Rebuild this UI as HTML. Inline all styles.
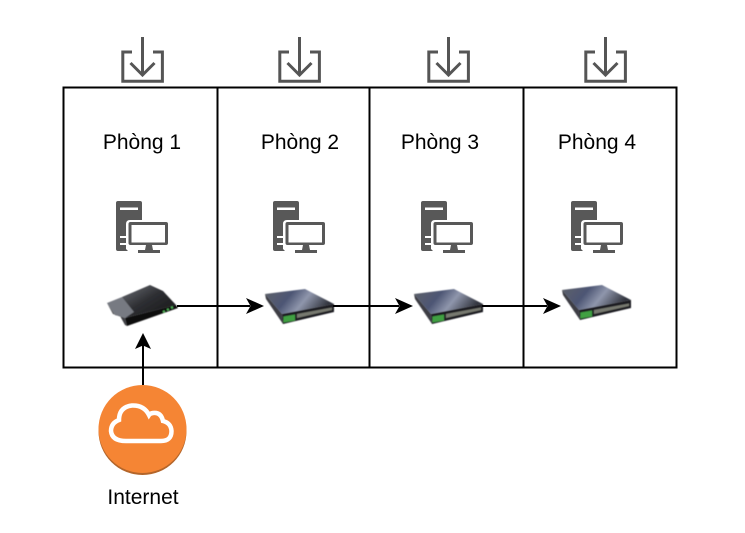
<!DOCTYPE html>
<html>
<head>
<meta charset="utf-8">
<style>
html,body{margin:0;padding:0;background:#fff}
svg{display:block}
text{font-family:"Liberation Sans",sans-serif;font-size:21px;fill:#000;text-anchor:middle}
</style>
</head>
<body>
<svg width="745" height="533" viewBox="0 0 745 533" xmlns="http://www.w3.org/2000/svg">
<defs>
<filter id="b" x="-10%" y="-10%" width="120%" height="120%"><feGaussianBlur stdDeviation="0.5"/></filter>
<filter id="b2" x="-10%" y="-10%" width="120%" height="120%"><feGaussianBlur stdDeviation="0.3"/></filter>
<g id="dl" fill="none" stroke="#555" stroke-width="3" filter="url(#b2)">
  <path d="M132 52H122.800V81.200H162.400V52H153"/>
  <path d="M142.500 37V74M130.500 63L142.500 75L154.500 63"/>
</g>
<g id="pc" filter="url(#b2)">
  <path d="M118 201H140Q142 201 142 203V220H130Q126 220 126 224V243H120V245H126V249L128 251H118Q116 251 116 249V203Q116 201 118 201Z" fill="#585858"/>
  <rect x="120" y="207.500" width="18" height="2.500" fill="#fff"/>
  <rect x="120" y="236" width="6" height="2" fill="#fff"/>
  <path d="M130.500 222H166Q168 222 168 224V243Q168 245 166 245H130.500Q128.500 245 128.500 243V224Q128.500 222 130.500 222Z" fill="#585858"/>
  <rect x="131.500" y="225" width="33.500" height="17.500" fill="#fff"/>
  <path d="M146 245H152L153 250H160V253H138V250H145Z" fill="#585858"/>
</g>
<linearGradient id="sw" x1="0" y1="0" x2="1" y2="0.3">
  <stop offset="0" stop-color="#5d6068"/><stop offset=".4" stop-color="#4d5674"/><stop offset=".65" stop-color="#8f96ac"/><stop offset="1" stop-color="#33363f"/>
</linearGradient>
<g id="sw1" filter="url(#b)">
  <path d="M265 294L305 289L334 304L282 314Z" fill="url(#sw)"/>
  <path d="M265 294L282 314L283 324L266 299Z" fill="#3c3e45"/>
  <path d="M282 314L334 304V312L283 324Z" fill="#1b1c20"/>
  <path d="M283.500 316.500L295 314.500V320.500L283.500 322.500Z" fill="#3fa043"/>
  <path d="M297 314L332 307.500V310L297 318Z" fill="#77796f"/>
</g>
<linearGradient id="rt" x1="0" y1="0" x2="1" y2="1">
  <stop offset="0" stop-color="#6d7077"/><stop offset=".45" stop-color="#2e2f33"/><stop offset="1" stop-color="#141414"/>
</linearGradient>
</defs>

<rect x="63.500" y="87.500" width="613" height="280" fill="#fff" stroke="#000" stroke-width="2"/>
<path d="M217.500 87V368M369.500 87V368M523.500 87V368" stroke="#000" stroke-width="2" fill="none"/>

<use href="#dl"/>
<use href="#dl" x="157"/>
<use href="#dl" x="306"/>
<use href="#dl" x="463"/>

<text x="142" y="149">Phòng 1</text>
<text x="300" y="149">Phòng 2</text>
<text x="440" y="149">Phòng 3</text>
<text x="597" y="149">Phòng 4</text>

<use href="#pc"/>
<use href="#pc" x="157"/>
<use href="#pc" x="305"/>
<use href="#pc" x="455"/>

<!-- router -->
<g filter="url(#b)">
  <path d="M122 297L150 285L163 291L176 305L125 318Z" fill="url(#rt)"/>
  <path d="M107 303L122 297L134 312L125 318L115 315Z" fill="#777a82"/>
  <path d="M107 303L115 315L120 316L125 325L127 326L125 318L113 314Z" fill="#3f4045"/>
  <path d="M125 318L176 305L178 308L127 326Z" fill="#0f0f0f"/>
  <path d="M163 312L173 307" stroke="#52b85a" stroke-width="2" stroke-dasharray="2 2.500"/>
</g>

<!-- switches -->
<use href="#sw1"/>
<use href="#sw1" x="149"/>
<use href="#sw1" x="297" y="-4"/>

<!-- connectors -->
<g stroke="#000" stroke-width="2" fill="none">
  <path d="M177 306H250"/>
  <path d="M333 306H399"/>
  <path d="M482 306H547"/>
  <path d="M143 385V345"/>
</g>
<g fill="#000">
  <path d="M264 306L246 298L250.500 306L246 314Z"/>
  <path d="M413 306L395 298L399.500 306L395 314Z"/>
  <path d="M561 306L543 298L547.500 306L543 314Z"/>
  <path d="M143 333L135 349L143 345.500L151 349Z"/>
</g>

<!-- cloud -->
<circle cx="142.500" cy="431" r="44" fill="#b3652a"/>
<circle cx="142.500" cy="429" r="44" fill="#f58534"/>
<path d="M126 441H161Q171.500 441 171.500 431Q171 423 163 421Q161 412 153 413Q150 413.500 149 415Q144 405 132 405.500Q119 407 119 420Q111 423 111 431Q112 441 126 441Z" fill="none" stroke="#fff" stroke-width="4.500"/>

<text x="143" y="504">Internet</text>
</svg>
</body>
</html>
